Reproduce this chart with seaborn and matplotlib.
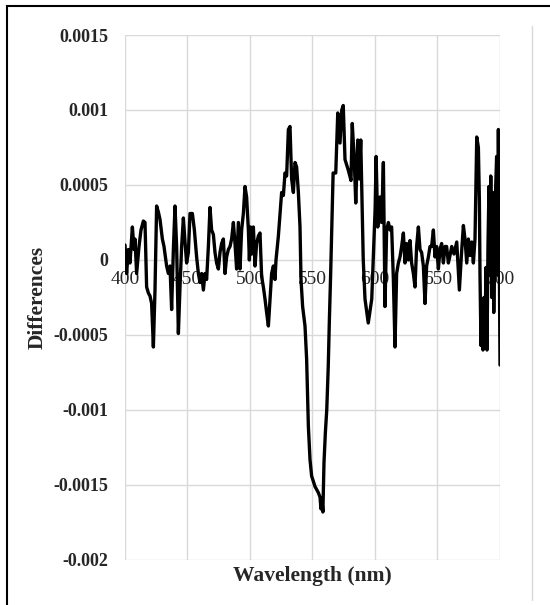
import matplotlib
matplotlib.use("Agg")
import matplotlib.pyplot as plt
import seaborn as sns
from matplotlib.patches import Rectangle
from matplotlib.lines import Line2D

# wavelength (nm) and difference values (x 1e-4)
wavelength = [
    400, 401.3, 402.7, 404, 405.9, 407.2, 408, 409.3, 411.2, 412.8, 414.7, 416,
    417.3, 418.7, 420, 421.3, 422.7, 424, 425.3, 426.7, 428, 429.9, 431.2, 433.3,
    434.7, 436, 437.3, 438.7, 440, 441.3, 442.7, 444, 445.3, 446.7, 448, 449.3,
    450.7, 452, 453.9, 455.5, 457.3, 458.7, 460, 461.3, 462.7, 464, 465.3, 466.7,
    468, 469.3, 470.7, 472, 473.3, 474.7, 476, 477.3, 478.7, 480, 481.3, 482.7,
    484, 485.3, 486.7, 488, 489.3, 490.7, 492, 493.3, 494.7, 496, 497.3, 498.7,
    499.5, 500.5, 501.3, 502.7, 504, 505.3, 506.7, 508, 509.3, 510.7, 512, 513.3,
    514.7, 516, 517.3, 518.7, 520, 520.8, 522.7, 524, 525.3, 526.7, 528, 529.3,
    530.7, 532, 533.3, 534.7, 536, 537.3, 538.7, 540, 540.8, 542.1, 544, 545.3,
    546.7, 548, 549.3, 552, 554.6, 556, 556.8, 557.6, 558.3, 559.2, 560.3, 561.4,
    562.6, 563.5, 564.5, 565.4, 566.5, 568.6, 570.2, 572, 573.4, 574.6, 576, 578.6,
    580.8, 581.8, 583.4, 584.6, 586.2, 587.4, 588.6, 590.6, 592, 594.6, 597.4, 598.6,
    600.1, 600.9, 602.2, 604, 605.3, 606.7, 608, 609.3, 610.7, 612, 613.3, 614.7,
    616, 617.3, 618.7, 620, 621.3, 622.7, 624, 625.3, 626.7, 628, 629.3, 630.7,
    632, 633.3, 634.7, 636, 637.3, 638.7, 640, 641.3, 642.7, 644, 645.3, 646.7,
    648, 649.3, 650.7, 652, 653.3, 654.7, 656, 657.3, 658.7, 660, 661.4, 663.2,
    665.4, 667.5, 669.1, 670.7, 672, 673.4, 674.7, 676, 677.4, 678.7, 680, 681.4,
    682.7, 683.5, 684, 684.8, 685.6, 686.4, 687.2, 688, 688.8, 689.6, 690.4, 691.2,
    692, 692.6, 693.4, 694.2, 695, 695.8, 696.6, 697.3, 698, 698.7, 699.3, 700,
]
diff_e4 = [
    1.0, -0.9, 0.7, -0.2, 2.2, 0.7, 1.4, -0.9, 0.9, 2.0, 2.6, 2.5,
    -1.8, -2.2, -2.4, -2.9, -5.8, -2.0, 3.6, 3.2, 2.7, 1.4, 0.9, -0.4,
    -0.9, -0.4, -3.3, 0.7, 3.6, 0.9, -4.9, -1.8, 0.9, 2.8, 1.2, -0.2,
    0.5, 3.1, 3.1, 2.0, 0.2, -0.9, -1.5, -0.9, -2.0, -0.9, -1.3, 0.9,
    3.5, 2.0, 1.7, 0.5, -0.2, -0.6, 0.5, 1.1, 1.4, -0.9, 0.2, 0.7,
    0.9, 1.4, 2.5, 1.1, -0.6, 2.5, -0.6, 2.0, 3.1, 4.9, 4.2, 2.0,
    0.0, 2.2, 0.4, 2.2, -0.4, 1.1, 1.6, 1.8, -1.1, -1.8, -2.6, -3.5,
    -4.4, -2.6, -0.9, -0.4, -1.3, 0.0, 1.6, 3.1, 4.5, 4.3, 5.8, 5.6,
    8.7, 8.9, 5.4, 4.5, 6.5, 6.2, 4.5, 2.2, -1.3, -3.1, -4.4, -6.6,
    -11.1, -13.3, -14.4, -15.1, -15.5, -15.8, -16.6, -16.0, -16.8, -13.5, -11.5, -10.0,
    -7.1, -4.0, -1.0, 2.0, 5.8, 5.8, 9.8, 7.8, 10.0, 10.3, 6.7, 6.0,
    5.3, 9.1, 6.7, 3.8, 8.0, 5.4, 8.0, 0.0, -2.6, -4.2, -2.6, 0.0,
    3.4, 6.9, 2.2, 4.2, 2.5, 6.5, -3.1, 2.0, 2.5, 2.0, 2.2, -1.3,
    -5.8, -0.9, -0.2, 0.2, 0.9, 1.8, -0.2, 1.1, 0.0, 1.3, -0.2, -0.9,
    -1.8, 0.9, 2.2, 0.7, 0.5, -0.4, -2.9, -0.4, 0.2, 0.9, 0.9, 2.0,
    0.2, 0.9, -0.6, 0.7, 1.1, -0.2, 0.9, 0.9, -0.2, 0.3, 0.9, 0.4,
    1.2, -2.0, 0.3, 2.3, 1.4, -0.2, 1.4, 0.3, 1.2, -0.2, 1.4, 8.2,
    7.5, 4.0, -1.0, -5.7, -3.0, -6.0, -2.5, -5.0, -0.5, -6.0, 1.0, 4.9,
    -1.0, 5.6, -2.5, 4.5, -3.5, 1.5, 5.0, 6.9, -1.0, 8.7, 2.0, -7.0,
]
differences = [v * 1e-4 for v in diff_e4]

x_ticks = [400, 450, 500, 550, 600, 650, 700]
y_ticks = [-0.002, -0.0015, -0.001, -0.0005, 0, 0.0005, 0.001, 0.0015]
y_labels = ["-0.002", "-0.0015", "-0.001", "-0.0005", "0", "0.0005", "0.001", "0.0015"]

sns.set_style("white")
plt.rcParams["font.family"] = ["Liberation Serif", "DejaVu Serif"]

fig = plt.figure(figsize=(5.5, 6.05), dpi=100)
ax = fig.add_axes([125 / 550, 1 - 560 / 605, 375 / 550, 525 / 605])

sns.lineplot(x=wavelength, y=differences, color="black", linewidth=2.4, ax=ax)

# x axis sits on y = 0 (set before ticks, since this resets them)
for s in ax.spines.values():
    s.set_visible(False)
ax.spines["bottom"].set_position(("data", 0))

ax.set_xlim(400, 700)
ax.set_ylim(-0.002, 0.0015)
ax.set_xticks(x_ticks)
ax.set_xticklabels([str(t) for t in x_ticks])
ax.set_yticks(y_ticks)
ax.set_yticklabels(y_labels, fontweight="bold")

ax.grid(True, color="#d9d9d9", linewidth=1.0)
ax.set_axisbelow(True)
ax.tick_params(axis="x", length=0, pad=8, labelsize=14)
ax.tick_params(axis="y", length=0, pad=12, labelsize=13)

ax.set_xlabel("Wavelength (nm)", fontsize=15.5, fontweight="bold")
ax.xaxis.set_label_coords(0.5, -0.012)
ax.set_ylabel("Differences", fontsize=15.5, fontweight="bold")
ax.yaxis.set_label_coords(-0.205, 0.5)

# outer chart border and light separator line
fig.add_artist(Rectangle((7 / 550, -0.05), 2, 1.05 - 6 / 605, transform=fig.transFigure,
                         fill=False, edgecolor="black", linewidth=1.5))
fig.add_artist(Line2D([532 / 550, 532 / 550], [1 - 26 / 605, 1 - 600 / 605],
                      transform=fig.transFigure, color="#d9d9d9", linewidth=1.0))

fig.savefig("out.png", dpi=100)
